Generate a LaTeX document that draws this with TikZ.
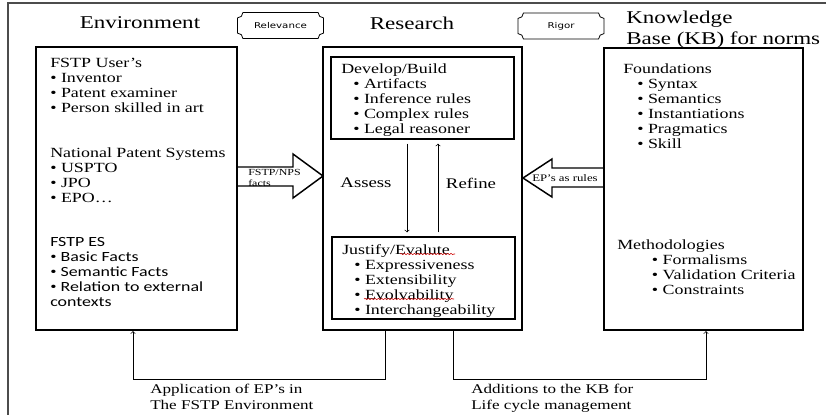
\documentclass[tikz,border=0pt]{standalone}
\usepackage{fontspec}
\setmainfont{Liberation Serif}[FakeStretch=1.28]
\newfontfamily\calibfont{Carlito}[FakeStretch=1.28]
\newfontfamily\tagfont{DejaVu Sans}[FakeStretch=1.28]
\usetikzlibrary{fit,positioning,decorations.pathmorphing}

\newcommand{\bodysize}{\fontsize{10.5}{11.25}\selectfont}
\newcommand{\itm}{\textbullet\ }
\newcommand{\sitm}{{\rmfamily\textbullet}\ }

\begin{document}
\begin{tikzpicture}
      [
      x=0.75pt, y=0.75pt,
      bigbox/.style={draw,line width=1.6pt,inner sep=0pt},
      subbox/.style={draw,line width=0.9pt,inner sep=0pt},
      txt/.style={anchor=north west,inner sep=0pt,align=left,font=\bodysize},
      heading/.style={inner sep=0pt,font=\fontsize{13.5}{16}\selectfont},
      tag/.style={inner sep=0pt,minimum width=64pt,minimum height=19pt,font=\tagfont\fontsize{6}{7}\selectfont},
      fat/.style={line width=1.1pt,line join=miter},
      conn/.style={line width=0.5pt},
      typo/.style={red!80!black,line width=0.4pt,decorate,decoration={snake,amplitude=0.5pt,segment length=2.5pt}}
      ]
      \useasboundingbox (0,0) rectangle (827,-415);
      \draw [line width=1.5pt, black!70] (826,-3) -- (8,-3) -- (8,-415);

      % titles and tags
      \node (envtitle) at (140,-23) [heading] {Environment};
      \node (restitle) at (412,-23) [heading] {Research};
      \node (kbtitle) at (626,-19) [heading,anchor=west] {Knowledge};
      \node (kbtitle2) at (626,-40) [heading,anchor=west] {Base (KB) for norms};
      \node (rel) at (280.5,-25.5) [tag] {Relevance};
      \node (rig) at (561,-26) [tag] {Rigor};
      \foreach \n in {rel,rig}
        \draw [line width=0.6pt] ([xshift=4pt]\n.north west) -- ([xshift=-4pt]\n.north east)
          arc [start angle=180,end angle=270,radius=4pt] -- ([yshift=4pt]\n.south east)
          arc [start angle=90,end angle=180,radius=4pt] -- ([xshift=4pt]\n.south west)
          arc [start angle=0,end angle=90,radius=4pt] -- ([yshift=-4pt]\n.north west)
          arc [start angle=270,end angle=360,radius=4pt] -- cycle;

      % the three columns
      \node (env) [bigbox,fit={(36,-47) (237,-330)}] {};
      \node (res) [bigbox,fit={(323,-47) (522,-330)}] {};
      \node (kb) [bigbox,fit={(604,-48) (803,-330)}] {};
      \node (dev) [subbox,fit={(331,-57) (514,-139)}] {};
      \node (jus) [subbox,fit={(332,-237) (515,-319)}] {};

      \node (users) at (50,-58) [txt] {FSTP User’s\\\itm Inventor\\\itm Patent examiner\\\itm Person skilled in art};
      \node (nps) at (50,-148) [txt] {National Patent Systems\\\itm USPTO\\\itm JPO\\\itm EPO\ldots};
      \node (es) at (50,-237) [txt,font=\calibfont\bodysize] {FSTP ES\\\sitm Basic Facts\\\sitm Semantic Facts\\\sitm Relation to external\\contexts};

      \node (build) at (341,-64) [txt] {Develop/Build\\\hspace*{9pt}\itm Artifacts\\\hspace*{9pt}\itm Inference rules\\\hspace*{9pt}\itm Complex rules\\\hspace*{9pt}\itm Legal reasoner};
      \node (eval) at (342,-244) [txt] {Justify/Evalute\\\hspace*{9pt}\itm Expressiveness\\\hspace*{9pt}\itm Extensibility\\\hspace*{9pt}\itm Evolvability\\\hspace*{9pt}\itm Interchangeability};
      \draw [typo] (400,-254) -- (455,-254);
      \draw [typo] (364,-299) -- (454,-299);

      \node (found) at (623,-64) [txt] {Foundations\\\hspace*{10.5pt}\itm Syntax\\\hspace*{10.5pt}\itm Semantics\\\hspace*{10.5pt}\itm Instantiations\\\hspace*{10.5pt}\itm Pragmatics\\\hspace*{10.5pt}\itm Skill};
      \node (meth) at (617,-240) [txt] {Methodologies\\\hspace*{26pt}\itm Formalisms\\\hspace*{26pt}\itm Validation Criteria\\\hspace*{26pt}\itm Constraints};

      % assess / refine loop
      \node (assess) at (366,-183) [inner sep=0pt,font=\fontsize{11}{13}\selectfont] {Assess};
      \node (refine) at (471,-183) [inner sep=0pt,font=\fontsize{11}{13}\selectfont] {Refine};
      \coordinate (dn) at (407,-183);
      \coordinate (up) at (438,-183);
      \draw [conn,->,shorten <=3pt,shorten >=3pt] (dev.south -| dn) to (jus.north -| dn);
      \draw [conn,->,shorten <=3pt,shorten >=3pt] (jus.north -| up) to (dev.south -| up);

      % block arrows
      \draw [fat] (237,-167) -- (293,-167) -- (293,-154) -- (323,-176) -- (293,-198) -- (293,-186) -- (237,-186);
      \node (npsfacts) at (248,-177.5) [anchor=west,inner sep=0pt,align=left,font=\fontsize{7}{8.25}\selectfont] {FSTP/NPS\\facts};
      \draw [fat] (604,-168) -- (552,-168) -- (552,-159) -- (523,-178) -- (552,-197) -- (552,-187) -- (604,-187);
      \node (eprules) at (532,-178) [anchor=west,inner sep=0pt,font=\fontsize{7.5}{9}\selectfont] {EP’s as rules};

      % feedback to environment and knowledge base
      \coordinate (turnL) at (133,-379);
      \coordinate (turnR) at (706,-379);
      \draw [conn,->] ([xshift=-28.1pt]res.south) |- (turnL) -- (env.south -| turnL);
      \draw [conn,->] ([xshift=22.9pt]res.south) |- (turnR) -- (kb.south -| turnR);
      \node (apply) at (150,-384) [txt,font=\fontsize{10}{12}\selectfont] {Application of EP’s in\\The FSTP Environment};
      \node (adds) at (471,-384) [txt,font=\fontsize{10}{12}\selectfont] {Additions to the KB for\\Life cycle management};
    \end{tikzpicture}
\end{document}
